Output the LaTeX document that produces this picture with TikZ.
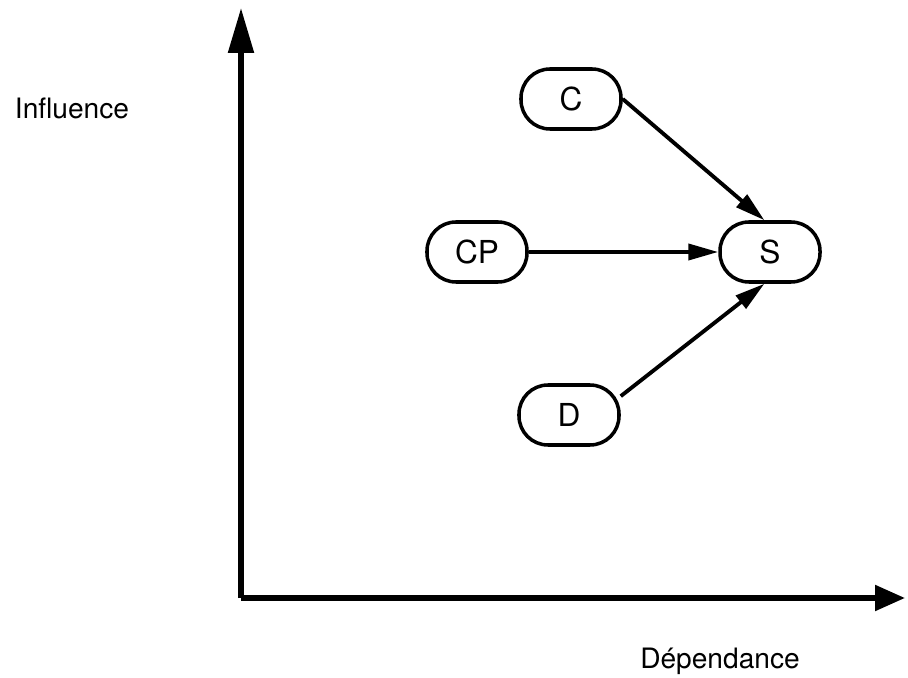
\documentclass[tikz,border=0pt]{standalone}
\usepackage{fontspec}
\setmainfont{TeX Gyre Heros}
\usetikzlibrary{arrows.meta}
\begin{document}
\begin{tikzpicture}[auto, node distance=5.86cm]
    \tikzstyle{box} = [draw, fill=white, rectangle, rounded corners=0.58cm,
    line width=2pt, minimum height=1.2cm, minimum width=2cm,
    font=\fontsize{18}{21}\selectfont]
    \tikzstyle{axislabel} = [font=\fontsize{16}{19}\selectfont]
    \tikzstyle{axis} = [line width=3pt]
    \tikzstyle{conn} = [line width=2.2pt, -{Triangle[length=0.6cm,width=0.32cm]}]
    \useasboundingbox (-4.82,-1.58) rectangle (13.34,11.96);
    \coordinate (origin) at (0,0);
    \coordinate (ytop) at (0,11.8);
    \coordinate (xend) at (13.28,0);
    \draw [axis, -{Triangle[length=0.9cm,width=0.5cm]}] (origin) -- (ytop);
    \draw [axis, -{Triangle[length=0.6cm,width=0.5cm]}] (origin) -- (xend);
    \node [axislabel] (influence) at (-3.38,9.8) {Influence};
    \node [axislabel] (dependance) at (9.58,-1.26) {Dépendance};
    \node [box] (cp) at (4.72,6.92) {CP};
    \node [box, right of=cp] (s) {S};
    \node [box, above of=cp, node distance=3.06cm, xshift=1.88cm] (c) {C};
    \node [box, below of=cp, node distance=3.26cm, xshift=1.84cm] (d) {D};
    \draw [conn] (cp) -- (s);
    \draw [conn] (c.east) -- (s.100);
    \draw [conn] (d.20) -- (s.-100);
\end{tikzpicture}
\end{document}
